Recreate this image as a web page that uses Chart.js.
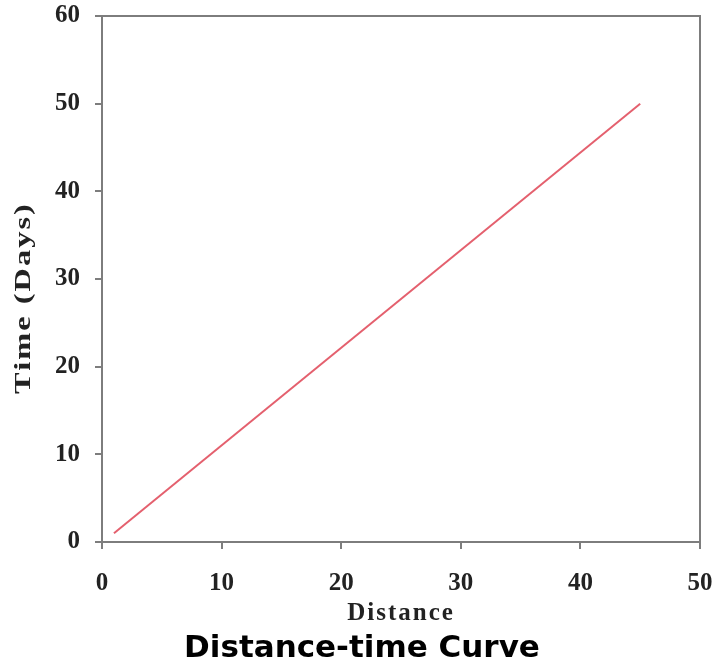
<!DOCTYPE html>
<html>
<head>
<meta charset="utf-8">
<script src="https://cdn.jsdelivr.net/npm/chart.js@4"></script>
<style>
  html, body { margin: 0; padding: 0; background: #fff; }
  #wrap { width: 717px; height: 665px; position: relative; }
</style>
</head>
<body>
<div id="wrap"><canvas id="dtChart"></canvas></div>
<script>
// data
const distance = [1, 45];
const timeDays = [1, 50];
const xTicks = [0, 10, 20, 30, 40, 50];
const yTicks = [0, 10, 20, 30, 40, 50, 60];
const xTitle = 'Distance';
const yTitle = 'Time (Days)';
const chartTitle = 'Distance-time Curve';

const axisGrey = '#7d7d7d';
const serif = "'Liberation Serif', 'Times New Roman', serif";
const tickFont = { family: serif, size: 25, weight: 'bold' };

// top/right edges of the plot box + spaced-out axis titles
const frame = {
    id: 'frame',
    afterDraw(chart) {
        const { ctx, chartArea: a } = chart;
        ctx.save();
        ctx.strokeStyle = axisGrey;
        ctx.lineWidth = 2;
        ctx.beginPath();
        ctx.moveTo(a.left - 7, a.top);
        ctx.lineTo(a.right, a.top);
        ctx.lineTo(a.right, a.bottom);
        ctx.stroke();

        ctx.fillStyle = '#222';
        ctx.textAlign = 'center';
        ctx.textBaseline = 'middle';
        ctx.font = 'bold 25px ' + serif;
        ctx.letterSpacing = '2px';
        ctx.fillText(xTitle, (a.left + a.right) / 2, a.bottom + 72);

        // y title is stretched along its length in the original
        ctx.translate(24, 298);
        ctx.rotate(-Math.PI / 2);
        ctx.scale(1.35, 1);
        ctx.font = 'bold 24px ' + serif;
        ctx.letterSpacing = '1.5px';
        ctx.fillText(yTitle, 0, 0);
        ctx.restore();
    }
};

new Chart(document.getElementById('dtChart'), {
    type: 'scatter',
    data: {
        datasets: [{
            label: 'Time',
            data: distance.map((d, i) => ({ x: d, y: timeDays[i] })),
            showLine: true,
            borderColor: '#e4606e',
            borderWidth: 2,
            pointRadius: 0,
            fill: false
        }]
    },
    options: {
        responsive: true,
        maintainAspectRatio: false,
        animation: false,
        layout: { padding: { left: 24, right: 17, top: 16, bottom: 1 } },
        plugins: {
            legend: { display: false },
            tooltip: { enabled: false },
            title: {
                display: true,
                position: 'bottom',
                text: chartTitle,
                color: '#000',
                font: { family: "'DejaVu Sans', Verdana, sans-serif", size: 31, weight: 'bold', lineHeight: 1.0 },
                padding: { top: 0, bottom: 0 }
            }
        },
        scales: {
            x: {
                type: 'linear',
                min: 0,
                max: 50,
                afterBuildTicks: s => { s.ticks = xTicks.map(v => ({ value: v })); },
                afterFit: s => { s.height = 91; s.paddingLeft = 0; s.paddingRight = 0; },
                grid: { drawOnChartArea: false, drawTicks: true, tickLength: 7, color: axisGrey, lineWidth: 2 },
                border: { display: true, color: axisGrey, width: 2 },
                ticks: { color: '#222', font: tickFont, padding: 20, maxRotation: 0 }
            },
            y: {
                type: 'linear',
                min: 0,
                max: 60,
                afterBuildTicks: s => { s.ticks = yTicks.map(v => ({ value: v })); },
                afterFit: s => { s.width = 78; s.paddingTop = 0; s.paddingBottom = 0; },
                grid: { drawOnChartArea: false, drawTicks: true, tickLength: 7, color: axisGrey, lineWidth: 2 },
                border: { display: true, color: axisGrey, width: 2 },
                ticks: { color: '#222', font: tickFont, padding: 15 }
            }
        }
    },
    plugins: [frame]
});
</script>
</body>
</html>
